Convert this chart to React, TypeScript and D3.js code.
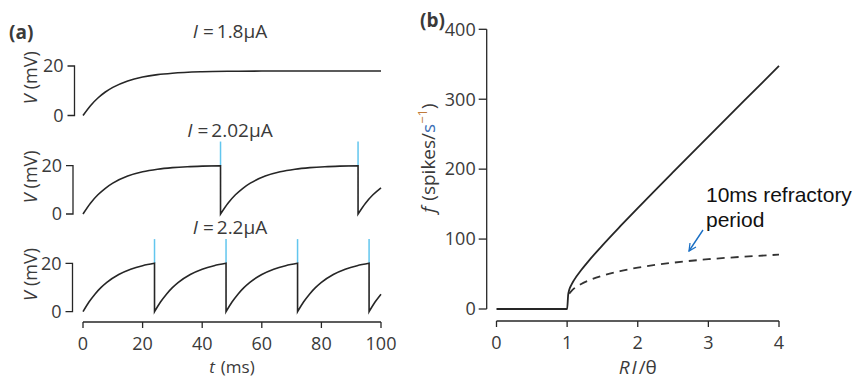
import React from 'react';
import * as d3 from 'd3';

const W = 857;
const H = 380;

// ---------- Panel (a) data ----------
const timeTicks = [0, 20, 40, 60, 80, 100];
const voltTicks = [0, 20];
const currentLabels = ['1.8', '2.02', '2.2'];

const trace1T = [0, 2.5, 5, 7.5, 10, 15, 20, 25, 30, 40, 50, 60, 70, 80, 90, 100];
const trace1V = [0, 3.98, 7.08, 9.5, 11.38, 13.98, 15.56, 16.52, 17.1, 17.67, 17.88, 17.96, 17.98, 18, 18, 18];
const trace1Spikes: number[] = [];

const trace2T = [
  0, 2.5, 5, 7.5, 10, 15, 20, 25, 30, 35, 40, 46.15,
  46.15, 48.65, 51.15, 53.65, 56.15, 61.15, 66.15, 71.15, 76.15, 81.15, 86.15, 92.3,
  92.3, 94.8, 97.3, 100,
];
const trace2V = [
  0, 4.47, 7.95, 10.66, 12.77, 15.69, 17.47, 18.54, 19.19, 19.59, 19.83, 20,
  0, 4.47, 7.95, 10.66, 12.77, 15.69, 17.47, 18.54, 19.19, 19.59, 19.83, 20,
  0, 4.47, 7.95, 10.85,
];
const trace2Spikes = [46.15, 92.3];

const trace3T = [
  0, 2, 4, 6, 8, 12, 16, 20, 24,
  24, 26, 28, 30, 32, 36, 40, 44, 48,
  48, 50, 52, 54, 56, 60, 64, 68, 72,
  72, 74, 76, 78, 80, 84, 88, 92, 96,
  96, 98, 100,
];
const trace3V = [
  0, 3.99, 7.25, 9.93, 12.12, 15.37, 17.56, 19.02, 20,
  0, 3.99, 7.25, 9.93, 12.12, 15.37, 17.56, 19.02, 20,
  0, 3.99, 7.25, 9.93, 12.12, 15.37, 17.56, 19.02, 20,
  0, 3.99, 7.25, 9.93, 12.12, 15.37, 17.56, 19.02, 20,
  0, 3.99, 7.25,
];
const trace3Spikes = [24, 48, 72, 96];

// ---------- Panel (b) data ----------
const ratioTicks = [0, 1, 2, 3, 4];
const rateTicks = [0, 100, 200, 300, 400];
const ratioSolid = [0, 1.0, 1.015, 1.03, 1.06, 1.1, 1.2, 1.3, 1.5, 1.75, 2, 2.5, 3, 3.5, 4];
const rateSolid = [0, 0, 20.5, 27.5, 34.5, 41.7, 55.8, 68.2, 91.0, 118.0, 144.3, 195.8, 246.6, 297.2, 347.6];
const ratioDashed = [1.03, 1.06, 1.1, 1.2, 1.3, 1.5, 1.75, 2, 2.5, 3, 3.5, 4];
const rateDashed = [22.0, 25.5, 29.4, 35.8, 40.5, 47.6, 54.1, 59.1, 66.2, 71.2, 74.8, 77.7];

const FONT = "'Open Sans', 'DejaVu Sans', sans-serif";
const TXT = '#3a3a3a';
const LINE = '#262626';
const SPIKE = '#62c6ee';

function tracePath(ts: number[], vs: number[], x: any, y: any) {
  const segs: [number, number][][] = [];
  let cur: [number, number][] = [];
  ts.forEach((t, i) => {
    if (i > 0 && t === ts[i - 1]) {
      segs.push(cur);
      cur = [];
    }
    cur.push([t, vs[i]]);
  });
  segs.push(cur);
  const line = d3.line<[number, number]>().x(d => x(d[0])).y(d => y(d[1])).curve(d3.curveMonotoneX);
  return segs.map((s, i) => {
    const p = line(s) || '';
    return i === 0 ? p : 'L' + p.slice(1);
  }).join('');
}

export default function App() {
  const xA = d3.scaleLinear().domain([0, 100]).range([83, 381]);
  const subplots = [
    { t: trace1T, v: trace1V, spikes: trace1Spikes, label: currentLabels[0], y: d3.scaleLinear().domain([0, 20]).range([115.5, 66]), titleY: 38, axisX: 74.5 },
    { t: trace2T, v: trace2V, spikes: trace2Spikes, label: currentLabels[1], y: d3.scaleLinear().domain([0, 20]).range([214, 165.7]), titleY: 137, axisX: 73 },
    { t: trace3T, v: trace3V, spikes: trace3Spikes, label: currentLabels[2], y: d3.scaleLinear().domain([0, 20]).range([311.7, 263.3]), titleY: 234, axisX: 72.5 },
  ];
  const axisAY = 322;

  const xB = d3.scaleLinear().domain([0, 4]).range([496.5, 779]);
  const yB = d3.scaleLinear().domain([0, 400]).range([309, 29.3]);
  const axisBX = 486.7;
  const axisBY = 321;
  const lineB = d3.line<[number, number]>().x(d => xB(d[0])).y(d => yB(d[1])).curve(d3.curveMonotoneX);
  const solidPath = lineB(ratioSolid.map((r, i) => [r, rateSolid[i]] as [number, number])) || '';
  const dashedPath = lineB(ratioDashed.map((r, i) => [r, rateDashed[i]] as [number, number])) || '';

  return (
    <div style={{ position: 'absolute', left: 0, top: 0 }}>
      <svg width={W} height={H} style={{ display: 'block', background: '#fff' }}>
        <defs>
          <marker id="arr" viewBox="0 0 10 10" refX="9" refY="5" markerWidth="9" markerHeight="9" orient="auto" markerUnits="userSpaceOnUse">
            <path d="M1,1 L9,5 L1,9" fill="none" stroke="#1a6fc4" strokeWidth={1.4} />
          </marker>
        </defs>
        {/* Panel labels */}
        <text x={9} y={39} fontFamily={FONT} fontWeight="bold" fontSize={19} fill={TXT}>(a)</text>
        <text x={420} y={27} fontFamily={FONT} fontWeight="bold" fontSize={19} fill={TXT}>(b)</text>

        {/* Panel (a) subplots */}
        {subplots.map((sp, k) => {
          const y = sp.y;
          const ax = sp.axisX;
          const cy = (y(0) + y(20)) / 2 - 13;
          return (
            <g key={k}>
              <text x={xA(50) - 2} y={sp.titleY} textAnchor="middle" fontFamily={FONT} fontSize={19} fill={TXT}>
                <tspan fontStyle="italic">I</tspan>
                <tspan dx={5}>=</tspan>
                <tspan dx={3}>{sp.label}µA</tspan>
              </text>
              <path d={`M${ax - 7},${y(20)}H${ax}V${y(0)}H${ax - 7}`} fill="none" stroke={LINE} strokeWidth={1.3} />
              {voltTicks.map(v => (
                <text key={v} x={ax - 11} y={y(v)} dy="0.35em" textAnchor="end" fontFamily={FONT} fontSize={18} fill={TXT}>{v}</text>
              ))}
              <text transform={`translate(31,${cy}) rotate(-90)`} textAnchor="middle" dy="0.35em" fontFamily={FONT} fontSize={18} fill={TXT}>
                <tspan fontStyle="italic">V</tspan>
                <tspan dx={5}>(mV)</tspan>
              </text>
              {sp.spikes.map(s => (
                <line key={s} x1={xA(s)} x2={xA(s)} y1={y(20)} y2={y(30)} stroke={SPIKE} strokeWidth={1.5} />
              ))}
              <path d={tracePath(sp.t, sp.v, xA, y)} fill="none" stroke={LINE} strokeWidth={1.6} />
            </g>
          );
        })}

        {/* Panel (a) time axis */}
        <line x1={xA(0)} x2={xA(100)} y1={axisAY} y2={axisAY} stroke={LINE} strokeWidth={1.3} />
        {timeTicks.map(t => (
          <g key={t}>
            <line x1={xA(t)} x2={xA(t)} y1={axisAY} y2={axisAY + 6} stroke={LINE} strokeWidth={1.3} />
            <text x={xA(t)} y={axisAY + 22} dy="0.35em" textAnchor="middle" fontFamily={FONT} fontSize={18} fill={TXT}>{t}</text>
          </g>
        ))}
        <text x={xA(50)} y={373} textAnchor="middle" fontFamily={FONT} fontSize={17} fill={TXT}>
          <tspan fontStyle="italic">t</tspan>
          <tspan dx={6}>(ms)</tspan>
        </text>

        {/* Panel (b) axes */}
        <path d={`M${axisBX},${yB(400)}V${yB(0)}`} fill="none" stroke={LINE} strokeWidth={1.3} />
        {rateTicks.map(r => (
          <g key={r}>
            <line x1={axisBX - 8} x2={axisBX} y1={yB(r)} y2={yB(r)} stroke={LINE} strokeWidth={1.3} />
            <text x={axisBX - 11} y={yB(r)} dy="0.35em" textAnchor="end" fontFamily={FONT} fontSize={18} fill={TXT}>{r}</text>
          </g>
        ))}
        <line x1={xB(0)} x2={xB(4)} y1={axisBY} y2={axisBY} stroke={LINE} strokeWidth={1.3} />
        {ratioTicks.map(r => (
          <g key={r}>
            <line x1={xB(r)} x2={xB(r)} y1={axisBY} y2={axisBY + 6} stroke={LINE} strokeWidth={1.3} />
            <text x={xB(r)} y={axisBY + 22} dy="0.35em" textAnchor="middle" fontFamily={FONT} fontSize={18} fill={TXT}>{r}</text>
          </g>
        ))}
        <text x={xB(2)} y={374} textAnchor="middle" fontFamily={FONT} fontSize={19} fill={TXT}>
          <tspan fontStyle="italic">R</tspan>
          <tspan fontStyle="italic" dx={2}>I</tspan>
          <tspan dx={2}>/θ</tspan>
        </text>
        <text transform={`translate(428,158) rotate(-90)`} textAnchor="middle" dy="0.35em" fontFamily={FONT} fontSize={19} fill={TXT}>
          <tspan fontStyle="italic">f</tspan>
          <tspan dx={6}>(spikes/</tspan>
          <tspan fill="#3d6fb5">s</tspan>
          <tspan fill="#c07a3a" fontSize={13} dy={-8}>−1</tspan>
          <tspan dy={8}>)</tspan>
        </text>

        {/* Panel (b) curves */}
        <path d={dashedPath} fill="none" stroke="#333" strokeWidth={1.8} strokeDasharray="8,6" />
        <path d={solidPath} fill="none" stroke={LINE} strokeWidth={1.8} />

        {/* Annotation */}
        <text x={706} y={202} fontFamily="'Liberation Sans', Arial, sans-serif" fontSize={21} fill="#111">10ms refractory</text>
        <text x={706} y={227} fontFamily="'Liberation Sans', Arial, sans-serif" fontSize={21} fill="#111">period</text>
        <line x1={703} y1={230} x2={689} y2={251} stroke="#1a6fc4" strokeWidth={1.4} markerEnd="url(#arr)" />
      </svg>
    </div>
  );
}
